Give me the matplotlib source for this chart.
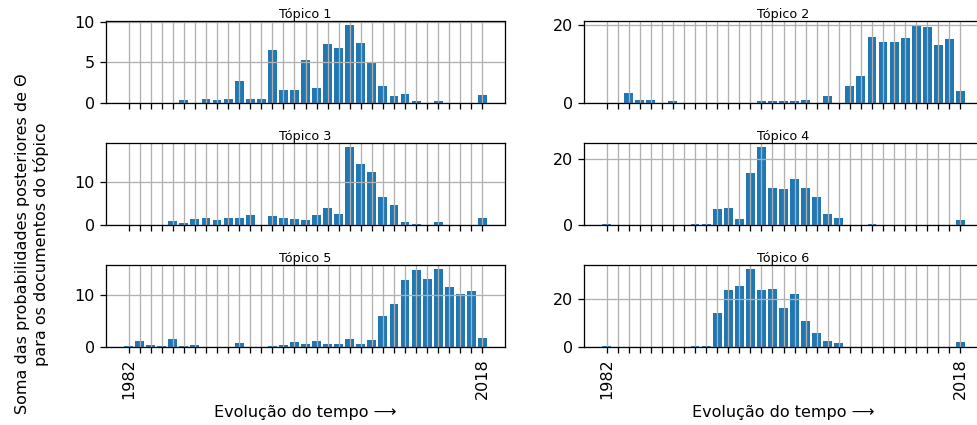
import matplotlib
matplotlib.use("Agg")
import matplotlib.pyplot as plt
import numpy as np

# ---- data -------------------------------------------------------------
topic_titles = ["Tópico 1", "Tópico 2", "Tópico 3", "Tópico 4", "Tópico 5", "Tópico 6"]

n_periods = 33
tick_labels = ["1982"] + [""] * 31 + ["2018"]

topico1 = [0, 0, 0, 0, 0, 0.4, 0, 0.5, 0.4, 0.55, 2.7, 0.55, 0.55, 6.5, 1.65, 1.6, 5.3,
           1.8, 7.3, 6.7, 9.6, 7.4, 5.0, 2.15, 0.9, 1.1, 0.25, 0, 0.2, 0, 0, 0, 1.0]
topico2 = [0, 0, 2.6, 0.8, 0.8, 0, 0.4, 0, 0, 0, 0, 0, 0, 0, 0.4, 0.4, 0.4, 0.4, 0.8, 0,
           1.75, 0, 4.4, 6.9, 17.1, 15.7, 15.7, 16.75, 20.1, 19.5, 14.9, 16.4, 3.0]
topico3 = [0, 0, 0, 0, 0.85, 0.4, 1.4, 1.7, 1.1, 1.7, 1.7, 2.3, 0, 2.0, 1.7, 1.4, 1.1, 2.3,
           3.95, 2.5, 18.0, 13.95, 12.25, 6.4, 4.7, 0.6, 0.3, 0, 0.6, 0, 0, 0, 1.7]
topico4 = [0.4, 0, 0, 0, 0, 0, 0, 0, 0.4, 0.4, 4.8, 5.2, 1.95, 15.9, 23.8, 11.3, 11.0,
           14.05, 11.3, 8.4, 3.3, 2.25, 0, 0, 0.4, 0, 0, 0, 0, 0, 0, 0, 1.45]
topico5 = [0.2, 1.15, 0.4, 0.2, 1.45, 0.2, 0.4, 0, 0, 0, 0.7, 0, 0, 0.2, 0.4, 0.9, 0.65,
           1.15, 0.65, 0.65, 1.45, 0.65, 1.35, 6.05, 8.2, 12.8, 14.7, 13.1, 15.0, 11.5,
           10.25, 10.7, 1.7]
topico6 = [0.4, 0, 0, 0, 0, 0, 0, 0, 0.4, 0.4, 14.3, 23.7, 25.5, 32.4, 23.7, 24.1, 16.1,
           21.8, 10.6, 5.9, 2.5, 1.5, 0, 0, 0, 0, 0, 0, 0, 0, 0, 0, 1.9]

series = [topico1, topico2, topico3, topico4, topico5, topico6]
yticks = [[0, 5, 10], [0, 20], [0, 10], [0, 20], [0, 10], [0, 20]]

xlabel = "Evolução do tempo ⟶"
ylabel = "Soma das probabilidades posteriores de Θ\npara os documentos do tópico"

# ---- figure -----------------------------------------------------------
DPI = 115
W, H = 977, 425
fig = plt.figure(figsize=(W / DPI, H / DPI), dpi=DPI)
plt.rcParams["font.family"] = ["DejaVu Sans"]

col_left = [106, 584]
ax_w = 399
row_top = [21, 143, 265]
ax_h = 82

x = np.arange(n_periods)
for k in range(6):
    r, c = divmod(k, 2)
    rect = [col_left[c] / W, 1 - (row_top[r] + ax_h) / H, ax_w / W, ax_h / H]
    ax = fig.add_axes(rect)
    ax.bar(x, series[k], width=0.8, color="#1f77b4")
    ax.set_xticks(x)
    if r == 2:
        ax.set_xticklabels(tick_labels, rotation=90, fontsize=10)
        ax.set_xlabel(xlabel, fontsize=10)
    else:
        ax.set_xticklabels([""] * n_periods)
    ax.set_yticks(yticks[k])
    ax.tick_params(axis="y", labelsize=10)
    ax.grid(True)
    ax.set_title(topic_titles[k], fontsize=8, pad=1)

fig.text(32 / W, 1 - 244 / H, ylabel, rotation=90, ha="center", va="center",
         multialignment="center", fontsize=10)

fig.savefig("out.png", dpi=DPI)
